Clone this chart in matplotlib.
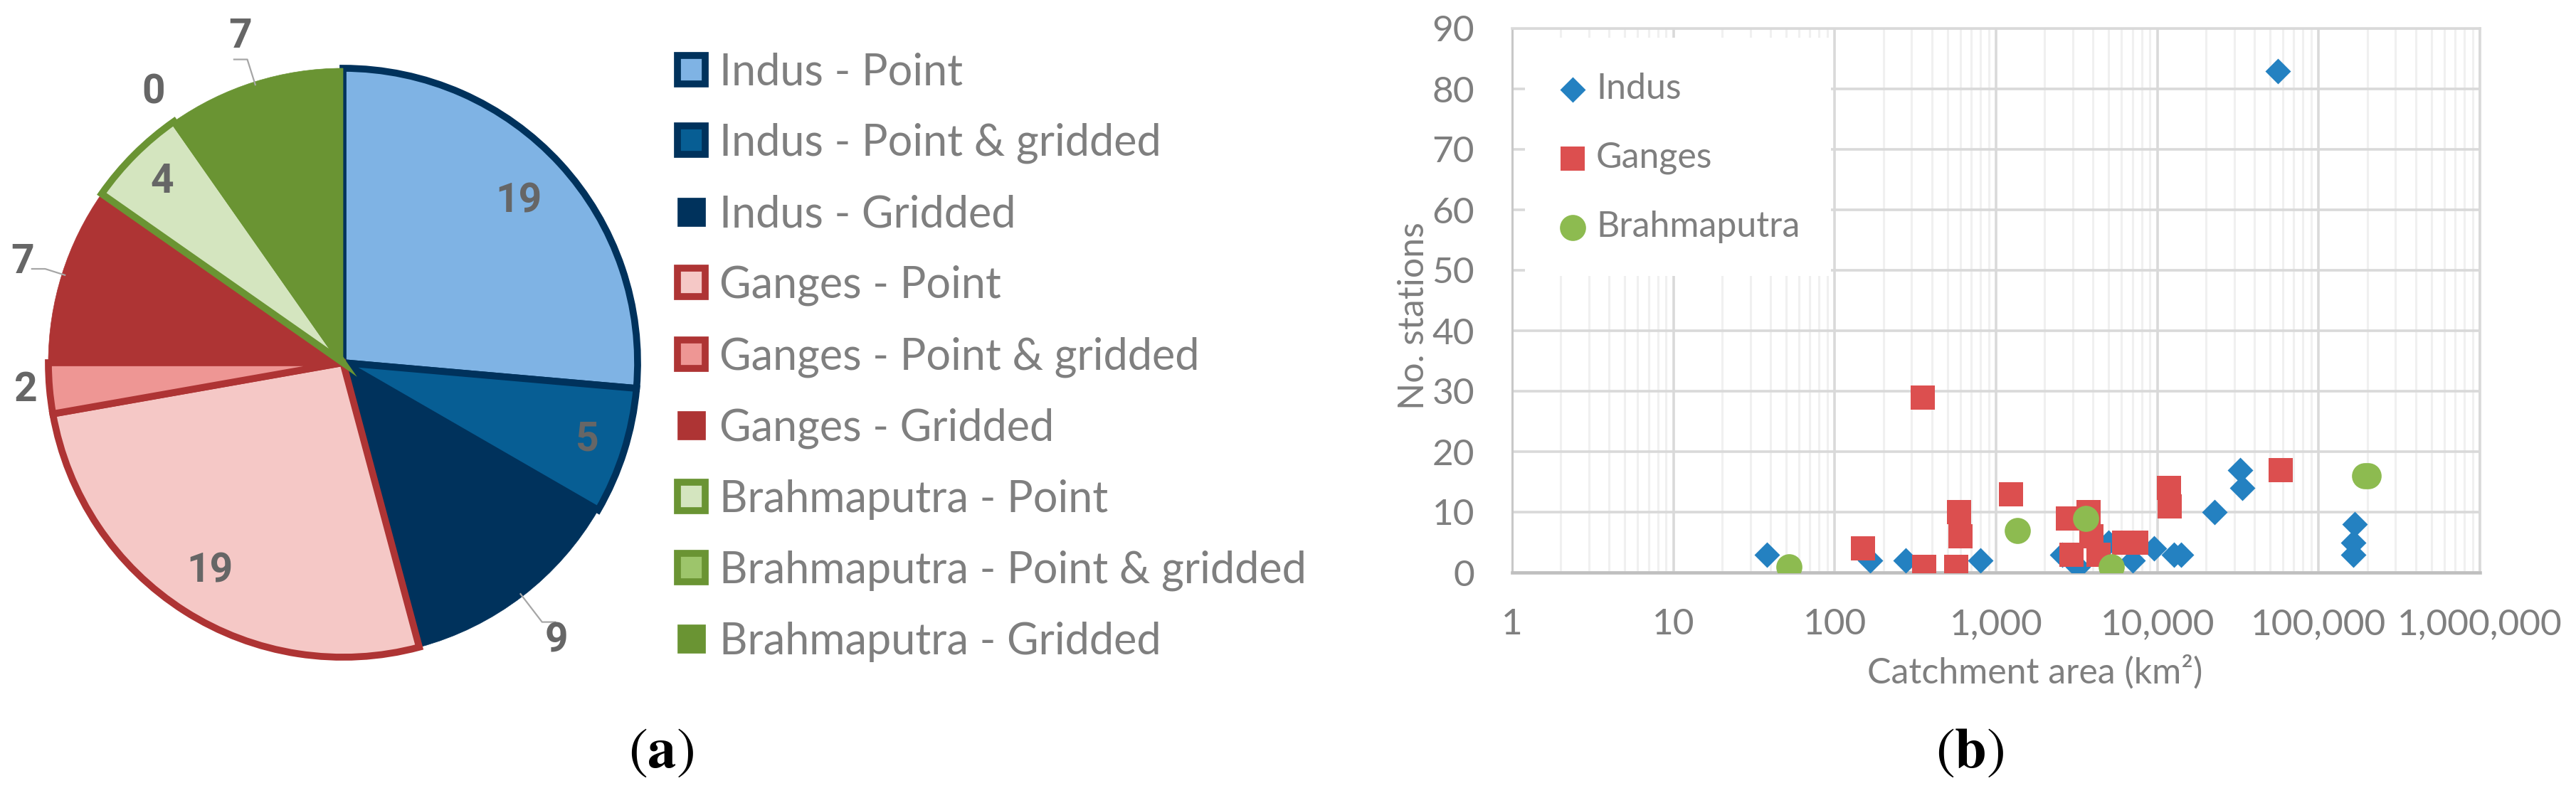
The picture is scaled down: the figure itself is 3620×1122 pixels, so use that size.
import numpy as np
import matplotlib
matplotlib.use('Agg')
import matplotlib.pyplot as plt
from matplotlib.patches import Rectangle
from matplotlib.ticker import LogLocator, NullFormatter

plt.rcParams['font.family'] = ['Lato', 'DejaVu Sans']
plt.rcParams['mathtext.fontset'] = 'stix'

# ---- (a) pie data
pie_labels = ['Indus - Point', 'Indus - Point & gridded', 'Indus - Gridded',
              'Ganges - Point', 'Ganges - Point & gridded', 'Ganges - Gridded',
              'Brahmaputra - Point', 'Brahmaputra - Point & gridded', 'Brahmaputra - Gridded']
pie_values = [19, 5, 9, 19, 2, 7, 4, 0, 7]

pie_faces = ['#7FB3E4', '#075E94', '#00325C', '#F5C8C6', '#EE9694', '#AE3434',
             '#D4E5BF', '#9DC56B', '#6A9433']
pie_edges = ['#00325C', '#00325C', '#00325C', '#AE3434', '#AE3434', '#AE3434',
             '#6A9433', '#6A9433', '#6A9433']
label_dist = [0.81, 0.87, 1.19, 0.84, 1.08, 1.14, 0.87, 1.12, 1.16]
has_leader = [False, False, True, False, False, True, False, False, True]

# ---- (b) scatter data: catchment area (km2) vs number of stations
indus_area = [38, 165, 275, 800, 2560, 3230, 5000, 7000, 9500, 12700, 14100,
              22700, 32500, 33500, 56000, 167000, 164000, 164000]
indus_n = [3, 2, 2, 2, 3, 1, 5, 2, 4, 3, 3, 10, 17, 14, 83, 8, 5, 3]

ganges_area = [150, 350, 360, 565, 590, 600, 1240, 2800, 2950, 3750, 3900,
               4300, 6200, 7400, 11800, 11900, 58000]
ganges_n = [4, 29, 1, 1, 10, 6, 13, 9, 3, 10, 6, 3, 5, 5, 14, 11, 17]

brahma_area = [52, 1350, 3600, 5200, 192000, 202000]
brahma_n = [1, 7, 9, 1, 16, 16]

x_ticks = [1, 10, 100, 1000, 10000, 100000, 1000000]
x_tick_labels = ['1', '10', '100', '1,000', '10,000', '100,000', '1,000,000']
y_ticks = [0, 10, 20, 30, 40, 50, 60, 70, 80, 90]

W, H = 3620, 1122
fig = plt.figure(figsize=(W / 100, H / 100), dpi=100)

# ---------------- pie
cx, cy, R = 482, 510, 414
half = 1.2 * R
ax1 = fig.add_axes([(cx - half) / W, (H - cy - half) / H, 2 * half / W, 2 * half / H])
wedges, _ = ax1.pie(pie_values, colors=pie_faces, startangle=90, counterclock=False,
                    radius=1)
for w, fc, ec in zip(wedges, pie_faces, pie_edges):
    if fc == ec:
        w.set_edgecolor(fc)
        w.set_linewidth(0.5)
    else:
        w.set_edgecolor(ec)
        w.set_linewidth(7)
ax1.set_xlim(-1.2, 1.2)
ax1.set_ylim(-1.2, 1.2)
ax1.axis('off')

for w, v, r, lead in zip(wedges, pie_values, label_dist, has_leader):
    a = np.deg2rad((w.theta1 + w.theta2) / 2)
    ca, sa = np.cos(a), np.sin(a)
    ax1.text(r * ca, r * sa, str(v), ha='center', va='center', fontsize=41,
             fontweight='bold', color='#666666', family=['Roboto', 'DejaVu Sans'])
    if lead:
        r1 = r - 0.08
        xs = [0.99 * ca, r1 * ca, r1 * ca + np.sign(ca) * 0.045]
        ys = [0.99 * sa, r1 * sa, r1 * sa]
        ax1.plot(xs, ys, color='#A6A6A6', lw=1.6, clip_on=False)

ax1.legend(wedges, pie_labels, loc='center left',
           bbox_to_anchor=(952 / W, 1 - 502 / H), bbox_transform=fig.transFigure,
           frameon=False, fontsize=44, handlelength=0.63, handleheight=0.63,
           handletextpad=0.33, labelspacing=0.70, borderpad=0, borderaxespad=0,
           labelcolor='#7F7F7F')

# ---------------- scatter
left, right, top, bottom = 2125, 3485, 40, 805
ax2 = fig.add_axes([left / W, (H - bottom) / H, (right - left) / W, (bottom - top) / H])
ax2.set_xscale('log')
ax2.set_xlim(1, 1e6)
ax2.set_ylim(0, 90)
ax2.set_xticks(x_ticks)
ax2.set_xticklabels(x_tick_labels)
ax2.set_yticks(y_ticks)
ax2.xaxis.set_minor_locator(LogLocator(base=10, subs=np.arange(2, 10), numticks=100))
ax2.xaxis.set_minor_formatter(NullFormatter())
ax2.set_axisbelow(True)
ax2.grid(True, which='major', color='#D9D9D9', lw=2.6)
ax2.grid(True, which='minor', axis='x', color='#F0F0F0', lw=2.2)
for s in ['top', 'right']:
    ax2.spines[s].set_color('#D9D9D9')
    ax2.spines[s].set_linewidth(2.6)
ax2.spines['left'].set_color('#C8C8C8')
ax2.spines['left'].set_linewidth(2.2)
ax2.spines['bottom'].set_color('#BFBFBF')
ax2.spines['bottom'].set_linewidth(3.3)
ax2.tick_params(axis='both', which='both', length=0, labelsize=37, labelcolor='#7F7F7F')
ax2.tick_params(axis='x', which='major', pad=36)
ax2.tick_params(axis='y', which='major', pad=38)

ax2.set_ylabel('No. stations', fontsize=36, color='#7F7F7F', va='center')
ax2.yaxis.set_label_coords((1987 - left) / (right - left), (bottom - 444) / (bottom - top))
ax2.set_xlabel('Catchment area (km²)', fontsize=36, color='#7F7F7F', va='center')
ax2.xaxis.set_label_coords((2860 - left) / (right - left), (bottom - 945) / (bottom - top))

# white legend area covering the grid
ax2.add_patch(Rectangle((18 / (right - left), (bottom - 388) / (bottom - top)),
                        430 / (right - left), 335 / (bottom - top),
                        transform=ax2.transAxes, facecolor='white', edgecolor='none',
                        zorder=1.5))

diamond = [(0, 1), (1, 0), (0, -1), (-1, 0)]
ax2.scatter(indus_area, indus_n, marker=diamond, s=671, color='#2481C1',
            linewidths=0, zorder=3, label='Indus')
ax2.scatter(ganges_area, ganges_n, marker='s', s=600, color='#DC4F4F',
            linewidths=0, zorder=3, label='Ganges')
ax2.scatter(brahma_area, brahma_n, marker='o', s=697, color='#8DBB50',
            linewidths=0, zorder=3, label='Brahmaputra')

ax2.legend(loc='center left', bbox_to_anchor=((2192 - left) / (right - left),
                                              (bottom - 222) / (bottom - top)),
           frameon=False, fontsize=36, handlelength=0.72, handletextpad=0.3,
           labelspacing=1.02, borderpad=0, borderaxespad=0, labelcolor='#7F7F7F',
           scatterpoints=1)

fig.text(929 / W, 1 - 1058 / H, r'$(\mathbf{a})$', fontsize=58, ha='center', va='center')
fig.text(2768 / W, 1 - 1058 / H, r'$(\mathbf{b})$', fontsize=58, ha='center', va='center')

fig.savefig('out.png', dpi=100, facecolor='white')
